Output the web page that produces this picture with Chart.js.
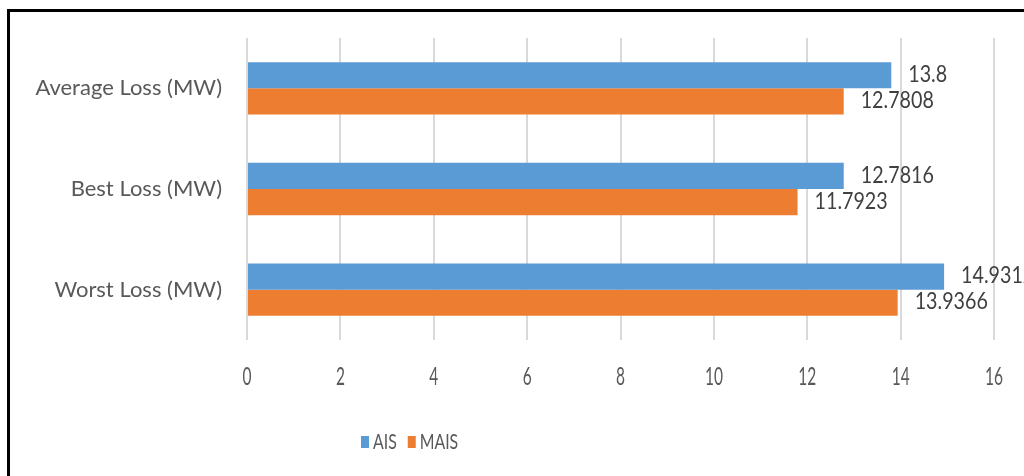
<!DOCTYPE html>
<html>
<head>
<meta charset="utf-8">
<script src="https://cdn.jsdelivr.net/npm/chart.js@4"></script>
<style>
    html, body { margin: 0; padding: 0; background: #fff; }
    #wrap { position: relative; width: 1024px; height: 476px; overflow: hidden; }
    #frame { position: absolute; left: 7px; top: 9px; width: 1100px; height: 520px; border: 3px solid #000; }
    #myChart { position: absolute; left: 0; top: 0; }
</style>
</head>
<body>
<div id="wrap">
    <div id="frame"></div>
    <canvas id="myChart" width="1024" height="476"></canvas>
</div>
<script>
// данные
var categories = ['Average Loss (MW)', 'Best Loss (MW)', 'Worst Loss (MW)'];
var aisValues = [13.8, 12.7816, 14.9312];
var maisValues = [12.7808, 11.7923, 13.9366];
var seriesNames = ['AIS', 'MAIS'];
var xTicks = [0, 2, 4, 6, 8, 10, 12, 14, 16];

var fontFamily = "Lato, 'Liberation Sans', sans-serif";

// текст со сжатием по ширине (в оригинале узкий шрифт)
function narrowText(ctx, text, x, y, align, k) {
    var w = ctx.measureText(text).width * k;
    var left = x;
    if (align === 'center') left = x - w / 2;
    if (align === 'right') left = x - w;
    ctx.save();
    ctx.translate(left, y);
    ctx.scale(k, 1);
    ctx.textAlign = 'left';
    ctx.fillText(text, 0, 0);
    ctx.restore();
    return w;
}

// подписи значений справа от столбцов
var valueLabels = {
    id: 'valueLabels',
    afterDatasetsDraw: function(chart) {
        var ctx = chart.ctx;
        ctx.save();
        ctx.font = '24px ' + fontFamily;
        ctx.fillStyle = '#404040';
        ctx.textBaseline = 'middle';
        chart.data.datasets.forEach(function(ds, i) {
            var meta = chart.getDatasetMeta(i);
            meta.data.forEach(function(bar, j) {
                narrowText(ctx, String(ds.data[j]), bar.x + 17, bar.y - 1, 'left', 0.82);
            });
        });
        ctx.restore();
    }
};

// подписи оси X
var xLabels = {
    id: 'xLabels',
    afterDraw: function(chart) {
        var ctx = chart.ctx;
        var scale = chart.scales.x;
        ctx.save();
        ctx.font = '25px ' + fontFamily;
        ctx.fillStyle = '#595959';
        ctx.textBaseline = 'middle';
        scale.ticks.forEach(function(t) {
            narrowText(ctx, String(t.value), scale.getPixelForValue(t.value), chart.chartArea.bottom + 37, 'center', 0.62);
        });
        ctx.restore();
    }
};

// легенда внизу
var bottomLegend = {
    id: 'bottomLegend',
    afterDraw: function(chart) {
        var ctx = chart.ctx;
        ctx.save();
        ctx.font = '22px ' + fontFamily;
        ctx.textBaseline = 'middle';
        var boxW = 8, boxH = 12, gap = 4, itemGap = 11;
        var x = 361;
        var y = 442;
        chart.data.datasets.forEach(function(ds) {
            ctx.fillStyle = ds.backgroundColor;
            ctx.fillRect(x, y - boxH / 2, boxW, boxH);
            ctx.fillStyle = '#595959';
            var w = narrowText(ctx, ds.label, x + boxW + gap, y, 'left', 0.72);
            x += boxW + gap + w + itemGap;
        });
        ctx.restore();
    }
};

var ctx = document.getElementById('myChart').getContext('2d');
var myChart = new Chart(ctx, {
    type: 'bar',
    data: {
        labels: categories,
        datasets: [{
            label: seriesNames[0],
            data: aisValues,
            backgroundColor: '#5B9BD5',
            borderWidth: 0
        }, {
            label: seriesNames[1],
            data: maisValues,
            backgroundColor: '#ED7D31',
            borderWidth: 0
        }]
    },
    options: {
        indexAxis: 'y',
        responsive: false,
        animation: false,
        layout: {
            padding: { top: 38, right: 30, left: 0, bottom: 0 }
        },
        datasets: {
            bar: { barPercentage: 1, categoryPercentage: 0.52 }
        },
        scales: {
            x: {
                min: xTicks[0],
                max: xTicks[xTicks.length - 1],
                afterBuildTicks: function(scale) {
                    scale.ticks = xTicks.map(function(v) { return { value: v }; });
                },
                afterFit: function(scale) { scale.height = 136; },
                grid: { color: '#D9D9D9', lineWidth: 2, drawTicks: false },
                border: { display: false },
                ticks: { display: false }
            },
            y: {
                afterFit: function(scale) { scale.width = 247; },
                grid: { display: false },
                border: { display: false },
                ticks: {
                    padding: 17,
                    color: '#595959',
                    font: { family: fontFamily, size: 22 }
                }
            }
        },
        plugins: {
            legend: { display: false },
            tooltip: { enabled: false }
        }
    },
    plugins: [valueLabels, xLabels, bottomLegend]
});
</script>
</body>
</html>
